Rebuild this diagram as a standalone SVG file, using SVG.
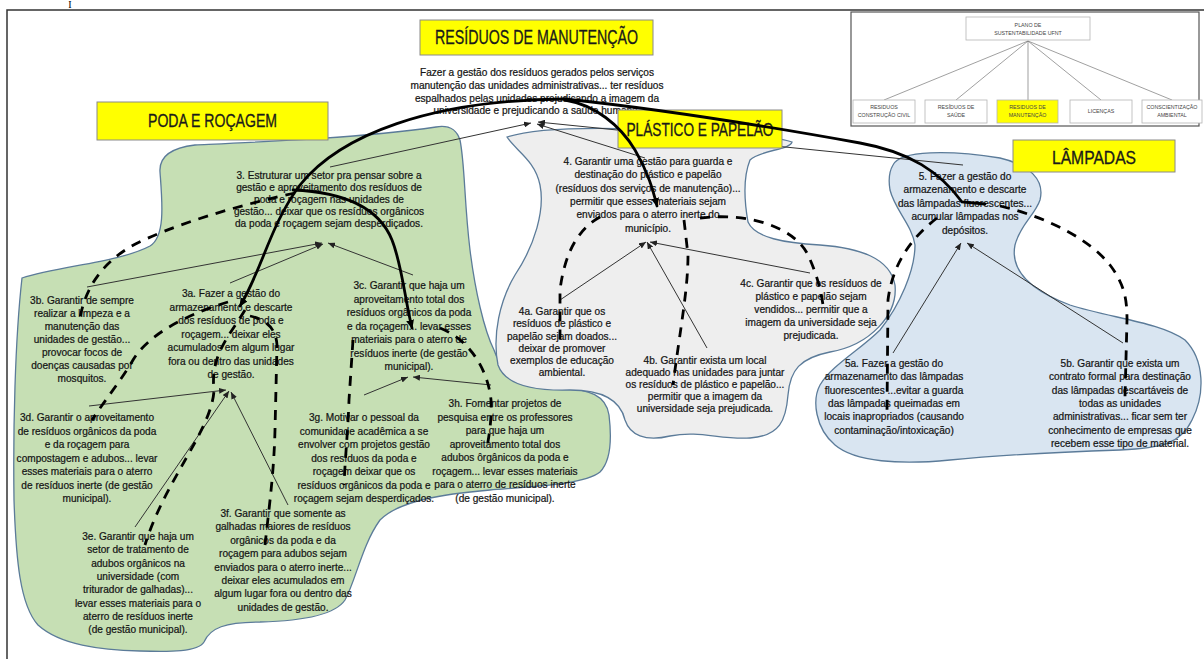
<svg xmlns="http://www.w3.org/2000/svg" width="1204" height="659" viewBox="0 0 1204 659">
  <defs>
    <marker id="tip" markerUnits="userSpaceOnUse" markerWidth="7" markerHeight="6" refX="7" refY="3" orient="auto">
      <path d="M0,0 L7,3 L0,6 z" fill="#222"/>
    </marker>
    <marker id="tipBold" markerUnits="userSpaceOnUse" markerWidth="9" markerHeight="8" refX="8" refY="4" orient="auto">
      <path d="M0,0 L9,4 L0,8 z" fill="#000"/>
    </marker>
  </defs>
  <style>
    .frame { fill: none; stroke: #333; stroke-width: 1.5; }
    .blob { stroke: #5b7b99; stroke-width: 1.3; }
    .green { fill: #c6dfb4; }
    .grey { fill: #eeeeee; }
    .blue { fill: #d9e5f1; }
    .title-box { fill: #ffff00; stroke: #8a8a8a; stroke-width: 1; }
    .title { font-family: "Liberation Sans", Arial, sans-serif; fill: #1a1a1a; stroke: #1a1a1a; stroke-width: 0.3; text-anchor: middle; }
    .t { font-family: "Liberation Sans", Arial, sans-serif; font-size: 10.1px; fill: #141414; stroke: #141414; stroke-width: 0.22; text-anchor: middle; }
    .thin { fill: none; stroke: #333; stroke-width: 1; marker-end: url(#tip); }
    .bold { fill: none; stroke: #000; stroke-width: 2.8; stroke-linecap: round; }
    .dash { fill: none; stroke: #000; stroke-width: 2.8; stroke-dasharray: 10 8; }
    .mini-box { fill: #fff; stroke: #b5b5b5; stroke-width: 0.8; }
    .mini-line { stroke: #777; stroke-width: 0.7; }
    .mini { font-family: "Liberation Sans", Arial, sans-serif; font-size: 5.3px; fill: #444; text-anchor: middle; }
  </style>

  <rect width="1204" height="659" fill="#fff"/>
  <path class="frame" d="M7,659 V10 H1204"/>
  <text x="70" y="7.5" font-family="Liberation Serif, serif" font-size="10" fill="#000" text-anchor="middle">I</text>

  <!-- overview of the sustainability plan -->
  <g id="overview">
    <rect x="851" y="12" width="348" height="114" fill="#fff" stroke="#555" stroke-width="1.2"/>
    <line class="mini-line" x1="1028" y1="41" x2="884" y2="100"/>
    <line class="mini-line" x1="1028" y1="41" x2="956" y2="100"/>
    <line class="mini-line" x1="1028" y1="41" x2="1028" y2="100"/>
    <line class="mini-line" x1="1028" y1="41" x2="1101" y2="100"/>
    <line class="mini-line" x1="1028" y1="41" x2="1172" y2="100"/>
    <rect class="mini-box" x="966" y="17" width="124" height="23"/>
    <text class="mini" x="1028" y="27">PLANO DE</text>
    <text class="mini" x="1028" y="35">SUSTENTABILIDADE UFNT</text>
    <rect class="mini-box" x="853" y="100" width="62" height="23"/>
    <text class="mini" x="884" y="109">RESIDUOS</text>
    <text class="mini" x="884" y="117">CONSTRUÇÃO CIVIL</text>
    <rect class="mini-box" x="925" y="100" width="62" height="23"/>
    <text class="mini" x="956" y="109">RESÍDUOS DE</text>
    <text class="mini" x="956" y="117">SAÚDE</text>
    <rect x="997" y="100" width="61" height="23" fill="#ffff00" stroke="#b5b5b5" stroke-width="0.8"/>
    <text class="mini" x="1027.5" y="109">RESIDUOS DE</text>
    <text class="mini" x="1027.5" y="117">MANUTENÇÃO</text>
    <rect class="mini-box" x="1070" y="100" width="62" height="23"/>
    <text class="mini" x="1101" y="113">LICENÇAS</text>
    <rect class="mini-box" x="1142" y="100" width="60" height="23"/>
    <text class="mini" x="1172" y="109">CONSCIENTIZAÇÃO</text>
    <text class="mini" x="1172" y="117">AMBIENTAL</text>
  </g>

  <!-- group areas -->
  <path id="area-poda" class="blob green" d="M22,278 C60,266 120,262 150,246 C166,236 162,200 160,172 C159,158 170,148 195,145 C260,142 360,138 436,127 C448,125 456,128 460,140 C465,165 464,200 470,250 C475,290 484,330 494,350 C500,370 520,383 560,387 C590,390 606,395 609,415 C612,440 610,462 600,472 C585,484 540,486 490,490 C445,494 400,500 380,520 C362,545 356,580 345,600 C335,615 300,621 260,622 C225,622 210,628 204,642 C198,652 170,652 140,651 C100,650 60,645 38,625 C20,605 16,560 14,500 C13,430 15,340 22,278 Z"/>
  <path id="area-plastico" class="blob grey" d="M507,137 C540,126 620,127 700,132 C740,135 780,137 792,142 C790,150 760,150 750,160 C742,180 745,205 748,222 C755,238 785,243 820,245 C860,248 890,258 895,285 C898,315 870,345 830,352 C800,358 790,370 788,395 C786,420 780,436 750,438 C720,440 700,430 670,436 C645,442 630,435 625,420 C620,398 600,390 570,390 C535,391 505,385 498,365 C492,335 500,300 515,275 C535,245 545,210 540,185 C535,160 515,150 507,137 Z"/>
  <path id="area-lampadas" class="blob blue" d="M893,165 C900,150 950,150 1000,158 C1030,165 1045,180 1040,200 C1035,215 1020,225 1015,245 C1010,270 1030,290 1070,305 C1110,318 1160,322 1185,340 C1205,360 1205,395 1192,420 C1180,445 1160,448 1120,450 C1060,452 1000,455 950,460 C900,465 855,462 835,445 C815,428 812,400 820,385 C832,365 860,350 880,330 C900,305 915,270 915,245 C912,225 895,210 890,190 C888,178 890,170 893,165 Z"/>

  <!-- hierarchy links (child to parent) -->
  <g id="links">
    <path class="thin" d="M330,167 L531,123"/>
    <path class="thin" d="M645,158 L537,124"/>
    <path class="thin" d="M963,165 L538,122"/>
    <path class="thin" d="M87,287 L322,243"/>
    <path class="thin" d="M230,283 L323,244"/>
    <path class="thin" d="M413,275 L328,243"/>
    <path class="thin" d="M89,406 L226,390"/>
    <path class="thin" d="M135,527 L229,391"/>
    <path class="thin" d="M288,505 L231,392"/>
    <path class="thin" d="M364,395 L408,377"/>
    <path class="thin" d="M491,385 L413,377"/>
    <path class="thin" d="M560,300 L646,242"/>
    <path class="thin" d="M707,348 L647,242"/>
    <path class="thin" d="M810,273 L650,242"/>
    <path class="thin" d="M893,353 L961,243"/>
    <path class="thin" d="M1123,343 L967,243"/>
  </g>

  <!-- main objective -->
  <g id="node-manutencao">
    <text class="t" x="537" y="75.5">Fazer a gestão dos resíduos gerados pelos serviços</text>
    <text class="t" x="537" y="88.5">manutenção das unidades administrativas... ter resíduos</text>
    <text class="t" x="537" y="101.5">espalhados pelas unidades prejudicando a imagem da</text>
    <text class="t" x="537" y="114">universidade e prejudicando a saúde humana.</text>
  </g>

  <g id="node-3">
    <text class="t" x="329" y="179">3. Estruturar um setor pra pensar sobre a</text>
    <text class="t" x="329" y="191">gestão e aproveitamento dos resíduos de</text>
    <text class="t" x="329" y="203">poda e roçagem nas unidades de</text>
    <text class="t" x="329" y="215">gestão... deixar que os resíduos orgânicos</text>
    <text class="t" x="329" y="227">da poda e roçagem sejam desperdiçados.</text>
  </g>
  <g id="node-3b">
    <text class="t" x="82" y="303.5">3b. Garantir de sempre</text>
    <text class="t" x="82" y="316.5">realizar a limpeza e a</text>
    <text class="t" x="82" y="329.5">manutenção das</text>
    <text class="t" x="82" y="342.5">unidades de gestão...</text>
    <text class="t" x="82" y="355.5">provocar focos de</text>
    <text class="t" x="82" y="368.5">doenças causadas por</text>
    <text class="t" x="82" y="381.5">mosquitos.</text>
  </g>
  <g id="node-3a">
    <text class="t" x="231" y="297">3a. Fazer a gestão do</text>
    <text class="t" x="231" y="310.5">armazenamento e descarte</text>
    <text class="t" x="231" y="324">dos resíduos de poda e</text>
    <text class="t" x="231" y="337.5">roçagem... deixar eles</text>
    <text class="t" x="231" y="351">acumulados em algum lugar</text>
    <text class="t" x="231" y="364.5">fora ou dentro das unidades</text>
    <text class="t" x="231" y="378">de gestão.</text>
  </g>
  <g id="node-3c">
    <text class="t" x="409" y="289">3c. Garantir que haja um</text>
    <text class="t" x="409" y="302.5">aproveitamento total dos</text>
    <text class="t" x="409" y="316">resíduos orgânicos da poda</text>
    <text class="t" x="409" y="329.5">e da roçagem... levar esses</text>
    <text class="t" x="409" y="343">materiais para o aterro de</text>
    <text class="t" x="409" y="356.5">resíduos inerte (de gestão</text>
    <text class="t" x="409" y="370">municipal).</text>
  </g>
  <g id="node-3d">
    <text class="t" x="87" y="421">3d. Garantir o aproveitamento</text>
    <text class="t" x="87" y="434.5">de resíduos orgânicos da poda</text>
    <text class="t" x="87" y="448">e da roçagem para</text>
    <text class="t" x="87" y="461.5">compostagem e adubos... levar</text>
    <text class="t" x="87" y="475">esses materiais para o aterro</text>
    <text class="t" x="87" y="488.5">de resíduos inerte (de gestão</text>
    <text class="t" x="87" y="502">municipal).</text>
  </g>
  <g id="node-3g">
    <text class="t" x="364" y="421">3g. Motivar o pessoal da</text>
    <text class="t" x="364" y="434.5">comunidade acadêmica a se</text>
    <text class="t" x="364" y="448">envolver com projetos gestão</text>
    <text class="t" x="364" y="461.5">dos resíduos da poda e</text>
    <text class="t" x="364" y="475">roçagem deixar que os</text>
    <text class="t" x="364" y="488.5">resíduos orgânicos da poda e</text>
    <text class="t" x="364" y="502">roçagem sejam desperdiçados.</text>
  </g>
  <g id="node-3h">
    <text class="t" x="505" y="407">3h. Fomentar projetos de</text>
    <text class="t" x="505" y="420.5">pesquisa entre os professores</text>
    <text class="t" x="505" y="434">para que haja um</text>
    <text class="t" x="505" y="447.5">aproveitamento total dos</text>
    <text class="t" x="505" y="461">adubos ôrgânicos da poda e</text>
    <text class="t" x="505" y="474.5">roçagem... levar esses materiais</text>
    <text class="t" x="505" y="488">para o aterro de resíduos inerte</text>
    <text class="t" x="505" y="501.5">(de gestão municipal).</text>
  </g>
  <g id="node-3e">
    <text class="t" x="138" y="540">3e. Garantir que haja um</text>
    <text class="t" x="138" y="553.3">setor de tratamento de</text>
    <text class="t" x="138" y="566.6">adubos orgânicos na</text>
    <text class="t" x="138" y="580">universidade (com</text>
    <text class="t" x="138" y="593.3">triturador de galhadas)...</text>
    <text class="t" x="138" y="606.6">levar esses materiais para o</text>
    <text class="t" x="138" y="620">aterro de resíduos inerte</text>
    <text class="t" x="138" y="633.3">(de gestão municipal).</text>
  </g>
  <g id="node-3f">
    <text class="t" x="283" y="517">3f. Garantir que somente as</text>
    <text class="t" x="283" y="530.4">galhadas maiores de resíduos</text>
    <text class="t" x="283" y="543.8">orgânicos da poda e da</text>
    <text class="t" x="283" y="557.2">roçagem para adubos sejam</text>
    <text class="t" x="283" y="570.6">enviados para o aterro inerte...</text>
    <text class="t" x="283" y="584">deixar eles acumulados em</text>
    <text class="t" x="283" y="597.4">algum lugar fora ou dentro das</text>
    <text class="t" x="283" y="610.8">unidades de gestão.</text>
  </g>

  <g id="node-4">
    <text class="t" x="648" y="165">4. Garantir uma gestão para guarda e</text>
    <text class="t" x="648" y="178.3">destinação do plástico e papelão</text>
    <text class="t" x="648" y="191.6">(resíduos dos serviços de manutenção)...</text>
    <text class="t" x="648" y="205">permitir que esses materiais sejam</text>
    <text class="t" x="648" y="218.3">enviados para o aterro inerte do</text>
    <text class="t" x="648" y="231.6">município.</text>
  </g>
  <g id="node-4a">
    <text class="t" x="562" y="315">4a. Garantir que os</text>
    <text class="t" x="562" y="327">resíduos de plástico e</text>
    <text class="t" x="562" y="339.5">papelão sejam doados...</text>
    <text class="t" x="562" y="351.5">deixar de promover</text>
    <text class="t" x="562" y="363.5">exemplos de educação</text>
    <text class="t" x="562" y="375.5">ambiental.</text>
  </g>
  <g id="node-4b">
    <text class="t" x="705" y="363.5">4b. Garantir exista um local</text>
    <text class="t" x="705" y="375.5">adequado nas unidades para juntar</text>
    <text class="t" x="705" y="387.5">os resíduos de plástico e papelão...</text>
    <text class="t" x="705" y="399.5">permitir que a imagem da</text>
    <text class="t" x="705" y="411.5">universidade seja prejudicada.</text>
  </g>
  <g id="node-4c">
    <text class="t" x="811" y="287">4c. Garantir que os resíduos de</text>
    <text class="t" x="811" y="300">plástico e papelão sejam</text>
    <text class="t" x="811" y="313">vendidos... permitir que a</text>
    <text class="t" x="811" y="326">imagem da universidade seja</text>
    <text class="t" x="811" y="339">prejudicada.</text>
  </g>

  <g id="node-5">
    <text class="t" x="965" y="179.5">5. Fazer a gestão do</text>
    <text class="t" x="965" y="193">armazenamento e descarte</text>
    <text class="t" x="965" y="206.5">das lâmpadas fluorescentes...</text>
    <text class="t" x="965" y="220">acumular lâmpadas nos</text>
    <text class="t" x="965" y="233.5">depósitos.</text>
  </g>
  <g id="node-5a">
    <text class="t" x="894" y="367">5a. Fazer a gestão do</text>
    <text class="t" x="894" y="380.3">armazenamento das lâmpadas</text>
    <text class="t" x="894" y="393.6">fluorescentes ...evitar a guarda</text>
    <text class="t" x="894" y="407">das lâmpadas queimadas em</text>
    <text class="t" x="894" y="420.3">locais inapropriados (causando</text>
    <text class="t" x="894" y="433.6">contaminação/intoxicação)</text>
  </g>
  <g id="node-5b">
    <text class="t" x="1120" y="367">5b. Garantir que exista um</text>
    <text class="t" x="1120" y="380.3">contrato formal para destinação</text>
    <text class="t" x="1120" y="393.6">das lâmpadas descartáveis de</text>
    <text class="t" x="1120" y="407">todas as unidades</text>
    <text class="t" x="1120" y="420.3">administrativas... ficar sem ter</text>
    <text class="t" x="1120" y="433.6">conhecimento de empresas que</text>
    <text class="t" x="1120" y="447">recebem esse tipo de material.</text>
  </g>

  <!-- category labels -->
  <g id="label-manutencao">
    <rect class="title-box" x="420" y="20" width="233" height="35"/>
    <text class="title" x="536.5" y="44" font-size="21" textLength="203" lengthAdjust="spacingAndGlyphs">RESÍDUOS DE MANUTENÇÃO</text>
  </g>
  <g id="label-poda">
    <rect class="title-box" x="97" y="102" width="231" height="38"/>
    <text class="title" x="212.5" y="127" font-size="17.5" textLength="129" lengthAdjust="spacingAndGlyphs">PODA E ROÇAGEM</text>
  </g>
  <g id="label-plastico">
    <rect class="title-box" x="618" y="110" width="164" height="38"/>
    <text class="title" x="700" y="135.5" font-size="17.5" textLength="147" lengthAdjust="spacingAndGlyphs">PLÁSTICO E PAPELÃO</text>
  </g>
  <g id="label-lampadas">
    <rect class="title-box" x="1013" y="140" width="162" height="32"/>
    <text class="title" x="1094" y="164" font-size="17.5" textLength="84" lengthAdjust="spacingAndGlyphs">LÂMPADAS</text>
  </g>

  <!-- cross links between objectives -->
  <g id="connectors">
    <path class="bold" d="M565,99 C430,100 340,135 300,185 C270,225 262,270 240,306" marker-end="url(#tipBold)"/>
    <path class="bold" d="M293,190 C340,192 378,205 392,240 C402,265 405,300 412,328" marker-end="url(#tipBold)"/>
    <path class="bold" d="M565,100 C595,105 620,125 635,150 C648,172 653,190 657,206" marker-end="url(#tipBold)"/>
    <path class="bold" d="M565,99 C650,108 760,125 860,143 C910,152 940,172 962,202 L985,204"/>

    <path class="dash" d="M295,193 C240,205 170,225 130,247 C100,265 85,290 80,318"/>
    <path class="dash" d="M228,302 C185,315 148,335 133,360 C120,382 105,400 92,420"/>
    <path class="dash" d="M245,310 C230,335 210,355 214,390 C212,430 165,480 145,545"/>
    <path class="dash" d="M250,316 C268,320 276,330 277,345 L275,430 C274,470 270,500 265,545"/>
    <path class="dash" d="M353,340 L349,400 C348,430 345,460 344,485"/>
    <path class="dash" d="M440,328 C470,340 488,370 491,400 C492,420 489,435 487,448"/>
    <path class="dash" d="M600,217 C580,228 565,250 560,290 L560,340"/>
    <path class="dash" d="M684,220 L688,255 C688,290 680,330 673,385"/>
    <path class="dash" d="M700,218 C750,212 795,228 808,255 C815,270 820,285 823,305"/>
    <path class="dash" d="M937,218 C915,235 893,260 888,300 L887,412"/>
    <path class="dash" d="M1000,206 C1050,218 1090,240 1110,265 C1125,285 1127,300 1127,320 L1125,397"/>
  </g>
</svg>
